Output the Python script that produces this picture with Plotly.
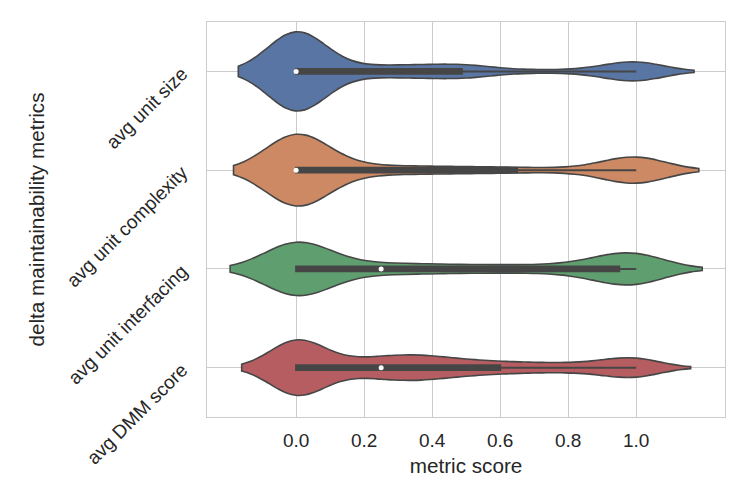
import numpy as np
import plotly.graph_objects as go

# ---- data (histogram of scores) ----
categories = ["avg unit size", "avg unit complexity", "avg unit interfacing", "avg DMM score"]
score_bins = [0.0, 0.05, 0.1, 0.15, 0.2, 0.25, 0.3, 0.35, 0.4, 0.45, 0.5,
              0.55, 0.6, 0.65, 0.7, 0.75, 0.8, 0.85, 0.9, 0.95, 1.0]
counts_unit_size = [600, 15, 18, 18, 20, 22, 25, 28, 25, 14, 62,
                    8, 6, 6, 6, 6, 6, 7, 10, 15, 130]
counts_unit_complexity = [540, 22, 22, 20, 18, 16, 15, 14, 14, 13, 13,
                          12, 10, 12, 8, 7, 7, 8, 10, 14, 190]
counts_unit_interfacing = [420, 22, 24, 22, 12, 30, 20, 18, 17, 16, 16,
                           15, 15, 14, 14, 15, 17, 20, 25, 75, 180]
counts_dmm_score = [330, 22, 22, 24, 28, 40, 48, 48, 42, 32, 26,
                    22, 22, 18, 16, 16, 16, 16, 18, 22, 95]
bandwidths = [0.085, 0.092, 0.097, 0.080]

all_counts = [counts_unit_size, counts_unit_complexity, counts_unit_interfacing, counts_dmm_score]
fills = ["#5875a4", "#cc8963", "#5f9e6e", "#b55d60"]
gray = "#464646"

fig = go.Figure()
for cat, cnt, bw, col in zip(categories, all_counts, bandwidths, fills):
    vals = np.repeat(np.array(score_bins), np.array(cnt))
    fig.add_trace(go.Violin(
        x=vals, y=[cat] * len(vals), orientation="h",
        name=cat, bandwidth=bw, spanmode="soft",
        scalemode="width", scalegroup="all",
        fillcolor=col, opacity=1, line=dict(color=gray, width=1.6),
        points=False,
        box=dict(visible=True, width=0.06, fillcolor=gray,
                 line=dict(color=gray, width=2)),
        meanline=dict(visible=False),
        hoverinfo="skip", showlegend=False,
    ))
    fig.add_trace(go.Scatter(
        x=[float(np.median(vals))], y=[cat], mode="markers",
        marker=dict(color="white", size=5, line=dict(width=0)),
        hoverinfo="skip", showlegend=False,
    ))

font_family = "Liberation Sans, Arial, sans-serif"
fig.update_layout(
    width=739, height=490,
    margin=dict(l=199, r=22, t=14, b=81),
    paper_bgcolor="white", plot_bgcolor="white",
    violinmode="overlay", violingap=0.2, violingroupgap=0,
    font=dict(family=font_family, color="#262626", size=19),
    xaxis=dict(
        range=[-0.262, 1.261], tickvals=[0, 0.2, 0.4, 0.6, 0.8, 1.0],
        tickformat=".1f", showgrid=True, gridcolor="#cccccc", gridwidth=1,
        zeroline=False, showline=True, linecolor="#cccccc", linewidth=1.3,
        mirror=True, ticks="", tickfont=dict(size=19), automargin=False,
        ticklabelstandoff=6,
        title=dict(text="metric score", font=dict(size=20.7), standoff=8),
    ),
    yaxis=dict(
        type="category", categoryorder="array", categoryarray=categories,
        range=[3.5, -0.5], showgrid=True, gridcolor="#cccccc", gridwidth=1,
        zeroline=False, showline=True, linecolor="#cccccc", linewidth=1.3,
        mirror=True, ticks="", tickangle=-45, tickfont=dict(size=19),
        ticklabelstandoff=20, automargin=False,
        title=dict(text="delta maintainability metrics", font=dict(size=20.7), standoff=12),
    ),
)

fig.write_html("out.html")
